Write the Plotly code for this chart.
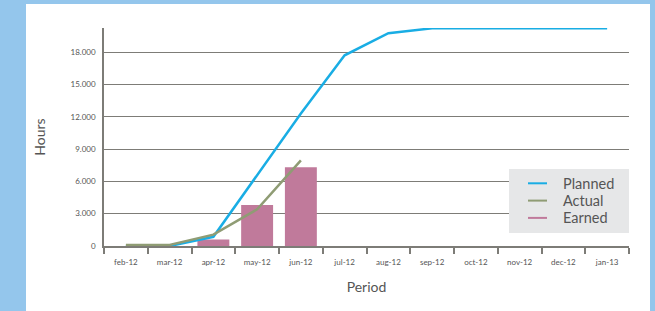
import plotly.graph_objects as go

months = ["feb-12", "mar-12", "apr-12", "may-12", "jun-12", "jul-12",
          "aug-12", "sep-12", "oct-12", "nov-12", "dec-12", "jan-13"]
planned = [0, 0, 850, 6600, 12300, 17700, 19750, 20200, 20200, 20200, 20200, 20200]
actual_months = ["feb-12", "mar-12", "apr-12", "may-12", "jun-12"]
actual = [100, 100, 1050, 3400, 7950]
earned_months = ["apr-12", "may-12", "jun-12"]
earned = [600, 3800, 7300]
y_tick_vals = [0, 3000, 6000, 9000, 12000, 15000, 18000]
y_tick_text = ["0", "3.000", "6.000", "9.000", "12.000", "15.000", "18.000"]
series_names = ["Planned", "Actual", "Earned"]

BLUE = "#19ade4"
GREEN = "#8f9c74"
PINK = "#c07a9b"
GRID = "#7d7c77"
TEXT = "#555555"
FONT = "Lato"
series_colors = [BLUE, GREEN, PINK]

fig = go.Figure()
fig.add_trace(go.Bar(x=earned_months, y=earned, marker_color=PINK, marker_line_width=0,
                     showlegend=False, name=series_names[2]))
fig.add_trace(go.Scatter(x=months, y=planned, mode="lines", name=series_names[0],
                         showlegend=False, line=dict(color=BLUE, width=2.5), cliponaxis=False))
fig.add_trace(go.Scatter(x=actual_months, y=actual, mode="lines", name=series_names[1],
                         showlegend=False, line=dict(color=GREEN, width=2.5), cliponaxis=False))

L, R, T, B = 104, 26, 28, 65
W, H = 655, 311
pw, ph = W - L - R, H - T - B

def px_x(x):
    return (x - L) / pw

def px_y(y):
    return (H - B - y) / ph

# white panel
fig.add_shape(type="rect", xref="paper", yref="paper", layer="below",
              x0=px_x(26), x1=px_x(650), y0=px_y(315), y1=px_y(4),
              fillcolor="white", line_width=0)
# legend box
fig.add_shape(type="rect", xref="paper", yref="paper", layer="above",
              x0=px_x(509), x1=px_x(629), y0=px_y(233), y1=px_y(169),
              fillcolor="#e6e7e8", line_width=0)
# legend entries
for i, (name, col) in enumerate(zip(series_names, series_colors)):
    yc = 183.3 + i * 17.3
    fig.add_shape(type="line", xref="paper", yref="paper", layer="above",
                  x0=px_x(528), x1=px_x(547), y0=px_y(yc), y1=px_y(yc),
                  line=dict(color=col, width=2))
    fig.add_annotation(xref="paper", yref="paper", x=px_x(561), y=px_y(yc),
                       xanchor="left", yanchor="middle", showarrow=False,
                       text=name, font=dict(size=14.5, color=TEXT, family=FONT))

fig.update_layout(
    width=W, height=H,
    margin=dict(l=L, r=R, t=T, b=B, pad=0),
    paper_bgcolor="#94c6ec",
    plot_bgcolor="white",
    bargap=0.27,
    showlegend=False,
    font=dict(family=FONT, color=TEXT),
    xaxis=dict(type="category", categoryorder="array", categoryarray=months,
               range=[-0.5, 11.5], showline=True, linecolor=GRID, linewidth=1.5,
               ticks="outside", ticklen=6, tickcolor=GRID, tickwidth=1.5,
               tickson="boundaries", showgrid=False, ticklabelstandoff=8,
               tickfont=dict(size=8, color=TEXT),
               title=dict(text="Period", font=dict(size=14, color=TEXT), standoff=16)),
    yaxis=dict(range=[0, 20230], tickvals=y_tick_vals, ticktext=y_tick_text,
               showline=True, linecolor=GRID, linewidth=1.5,
               showgrid=True, gridcolor=GRID, gridwidth=1.3, zeroline=False,
               ticks="", ticklabelstandoff=5,
               tickfont=dict(size=8, color=TEXT),
               title=dict(text="Hours", font=dict(size=14, color=TEXT), standoff=22)),
)

fig.write_html("out.html", config={"displayModeBar": False},
               post_script="document.body.style.margin='0';")
